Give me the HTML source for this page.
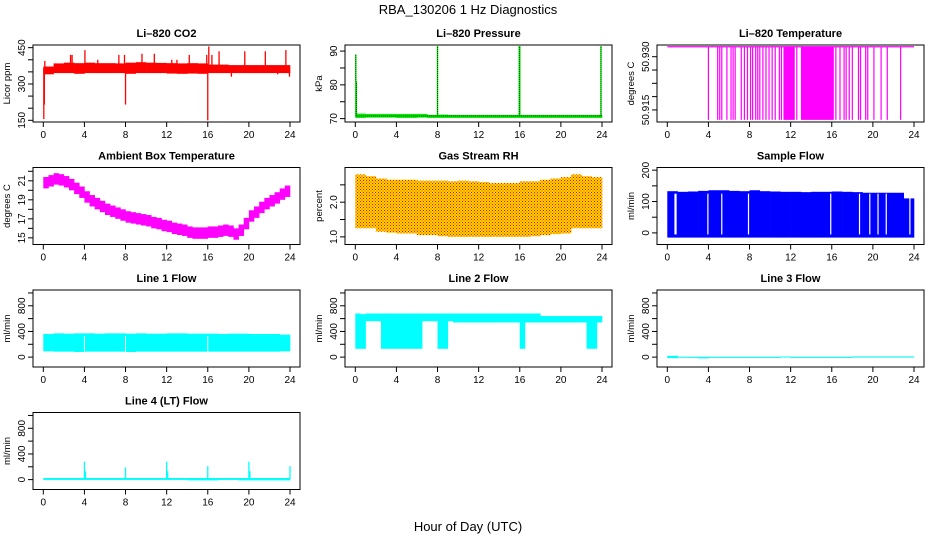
<!DOCTYPE html>
<html><head><meta charset="utf-8"><style>
html,body{margin:0;padding:0;background:#fff;width:936px;height:540px;overflow:hidden}
svg{display:block;font-family:"Liberation Sans",Arial,sans-serif}
</style></head><body>
<svg id="c" width="936" height="540" xmlns="http://www.w3.org/2000/svg">
<defs><pattern id="rdots" width="3" height="3" patternUnits="userSpaceOnUse"><rect width="3" height="3" fill="#ffdd00"/><rect x="0" y="0" width="1" height="1" fill="#ff0000"/><rect x="1.5" y="1.5" width="1" height="1" fill="#ff0000"/></pattern></defs>
<text x="468" y="14" font-size="13" text-anchor="middle">RBA_130206  1 Hz Diagnostics</text>
<text x="468" y="531" font-size="13" text-anchor="middle">Hour of Day (UTC)</text>
</svg>
<script>
const xTicks=[0,4,8,12,16,20,24];
// CO2 hourly band
const co2Lo=[340,345,345,342,345,345,345,345,342,345,345,345,343,342,343,342,345,345,345,345,345,345,345,345];
const co2Hi=[372,385,388,386,388,386,386,385,388,390,388,387,386,385,386,385,380,380,378,378,378,378,378,378];
const co2Spikes=[[0.05,155],[0.1,215],[0.15,395],[2.65,420],[2.8,420],[4.05,440],[5.3,400],[7.35,420],[7.9,420],[8.0,215],[9.6,425],[10.8,425],[12.5,400],[13.0,400],[14.2,420],[15.9,420],[16.0,150],[16.1,455],[16.4,420],[17.1,435],[18.3,330],[19.6,435],[21.6,435],[22.8,340],[23.6,440],[23.95,330]];
// Pressure
const presLo=[70.2,70.3,70.3,70.3,70.2,70.2,70.3,70.2,70.2,70.2,70.2,70.2,70.2,70.2,70.2,70.2,70.2,70.2,70.2,70.2,70.2,70.2,70.2,70.2];
const presHi=[71.5,71.4,71.4,71.4,71.4,71.4,71.4,71.1,71.2,71.1,71.1,71.1,71.1,71.1,71.1,71.1,71.1,71.1,71.1,71.1,71.1,71.1,71.1,71.1];
const presSpikes=[[0.05,89],[0.1,81],[8.0,91.5],[15.95,91.5],[16.0,91.5],[23.9,91.5]];
// Li-820 temperature
const tempHigh=50.9328, tempLow=50.9122;
const tempDrops=[4.0,4.9,5.1,5.3,5.8,6.2,6.4,6.6,7.2,7.5,7.8,8.1,8.3,8.6,8.8,9.0,9.3,9.6,9.9,10.2,10.5,10.9,11.1,12.6,16.4,16.8,17.2,17.4,17.7,18.0,18.6,18.8,19.3,19.5,20.1,20.8,21.4,22.7];
const tempBlocks=[[11.3,12.4],[13.0,16.2]];
// Ambient box temperature (half-hour bins)
const ambLo=[20.2,20.4,20.6,20.5,20.3,20.0,19.6,19.2,18.7,18.3,18.0,17.7,17.4,17.2,17.0,16.8,16.6,16.5,16.4,16.3,16.2,16.0,15.9,15.7,15.6,15.4,15.3,15.2,15.0,14.9,14.9,14.9,15.0,15.0,15.1,15.2,15.1,14.8,15.2,15.9,16.7,17.1,17.6,18.0,18.3,18.6,19.0,19.3];
const ambHi=[21.4,21.6,21.8,21.7,21.5,21.2,20.8,20.4,19.9,19.5,19.2,18.9,18.6,18.4,18.2,18.0,17.8,17.7,17.6,17.5,17.4,17.2,17.1,16.9,16.8,16.6,16.5,16.4,16.2,16.1,16.1,16.1,16.2,16.2,16.3,16.4,16.3,16.0,16.4,17.1,17.9,18.3,18.8,19.2,19.5,19.8,20.2,20.5];
// Gas stream RH
const rhLo=[1.25,1.25,1.15,1.12,1.1,1.1,1.05,1.05,1.02,1.0,1.0,1.0,1.0,1.0,1.0,1.0,1.0,1.02,1.05,1.08,1.1,1.25,1.25,1.25];
const rhHi=[2.8,2.75,2.68,2.65,2.65,2.65,2.62,2.62,2.62,2.6,2.62,2.6,2.58,2.55,2.55,2.55,2.6,2.6,2.65,2.68,2.72,2.8,2.75,2.72];
// Sample flow
const sfLo=[-15,-15,-15,-15,-15,-15,-15,-15,-15,-15,-15,-15,-15,-15,-15,-15,-15,-15,-15,-15,-15,-15,-15,-15];
const sfHi=[133,131,132,134,136,136,134,133,136,133,132,131,131,130,131,131,132,131,130,128,128,128,128,110];
const sfGaps=[0.75,0.85,3.95,5.3,7.9,15.9,18.7,19.7,20.5,21.3,23.6];
// Line flows
const l1Lo=[90,85,85,80,85,85,85,85,80,85,85,85,85,85,85,85,85,85,85,85,85,85,85,90];
const l1Hi=[360,370,365,370,370,365,370,370,365,370,365,365,370,370,365,365,365,360,365,365,360,360,360,350];
const l1Gaps=[4.0,8.0,16.0];
const l2Lo=[130,130,560,560,560,130,130,130,130,130,130,130,130,560,560,560,130,130,560,540,540,540,540,540,540,540,540,540,540,540,540,540,130,540,540,540,540,540,540,540,540,540,540,540,540,130,130,540];
const l2Hi=[680,670,680,680,680,680,680,680,680,680,680,680,680,680,680,680,680,680,680,680,680,680,680,680,680,680,680,680,680,680,680,680,680,680,680,680,640,640,640,640,640,640,640,640,640,640,640,640];
const l3Lo=[-15,-5,-3,-20,-3,-3,-3,-3,-3,-3,-3,-3,-3,-3,-3,-3,-3,-3,-3,-3,-3,-3,-3,-3];
const l3Hi=[20,5,3,3,3,3,3,3,3,3,3,10,3,3,3,3,3,3,12,12,12,12,12,12];
const l4Lo=[-5,-5,-5,-5,-5,-5,-5,-5,-5,-5,-5,-5,-5,-5,-12,-12,-12,-5,-5,-12,-12,-12,-12,-12];
const l4Hi=[25,25,25,25,25,25,25,25,25,25,25,25,25,25,25,25,25,25,25,25,25,25,25,25];
const l4Spikes=[[4,280],[4.1,130],[8,190],[12,280],[12.1,130],[16,210],[20,280],[20.1,130],[24,210]];

const NS="http://www.w3.org/2000/svg", svg=document.getElementById('c');
const cols=[{bl:33,br:300,x0:43.3,x24:290},{bl:345,br:612,x0:355.3,x24:602},{bl:657,br:924,x0:667.3,x24:914}];
const rows=[45,167.5,290,412.5], BH=77;
function el(t,a,p){const e=document.createElementNS(NS,t);for(const k in a)e.setAttribute(k,a[k]);(p||svg).appendChild(e);return e;}
function panel(name,c,r,title,ylab,ylim,ticks,labels){
  const C=cols[c],top=rows[r],bot=top+BH;
  const g=el('g',{});
  
  
  const sx=h=>C.x0+h/24*(C.x24-C.x0);
  const sy=v=>bot-(v-ylim[0])/(ylim[1]-ylim[0])*BH;
  const data=el('g',{},g);
  const t=el('text',{x:(C.bl+C.br)/2,y:top-8,'font-size':11,'font-weight':'bold','text-anchor':'middle'},g);t.textContent=title;
  
  
  const yl=el('text',{x:0,y:0,'font-size':9.5,'text-anchor':'middle',transform:`translate(${C.bl-23},${(top+bot)/2}) rotate(-90)`},g);yl.textContent=ylab;
  
  
  const box=el('rect',{x:C.bl,y:top,width:C.br-C.bl,height:BH,fill:'none',stroke:'#000','stroke-width':1},g);
  
  
  xTicks.forEach(h=>{el('line',{x1:sx(h),x2:sx(h),y1:bot,y2:bot+5,stroke:'#000'},g);
    const tx=el('text',{x:sx(h),y:bot+16,'font-size':10,'text-anchor':'middle'},g);tx.textContent=h;
    
    });
  ticks.forEach((v,i)=>{el('line',{x1:C.bl-5,x2:C.bl,y1:sy(v),y2:sy(v),stroke:'#000'},g);
    if(labels[i]){const ty=el('text',{x:0,y:0,'font-size':10,'text-anchor':'middle',transform:`translate(${C.bl-8},${sy(v)}) rotate(-90)`},g);ty.textContent=labels[i];
    
    }});
  return {sx,sy,g:data};
}
function bands(p,lo,hi,fill){const w=24/lo.length;lo.forEach((v,i)=>{const y1=p.sy(hi[i]),y2=p.sy(v);
  const r=el('rect',{x:p.sx(i*w),y:y1,width:p.sx((i+1)*w)-p.sx(i*w)+0.3,height:Math.max(1,y2-y1),fill:fill},p.g);
  
  });}
function vline(p,h,v1,v2,col,wd,dash){const l=el('line',{x1:p.sx(h),x2:p.sx(h),y1:p.sy(v1),y2:p.sy(v2),stroke:col,'stroke-width':wd||1},p.g);if(dash)l.setAttribute('stroke-dasharray',dash);
  
  return l;}

// CO2
let p=panel('co2',0,0,'Li\u2013820 CO2','Licor ppm',[143,461],[150,200,250,300,350,400,450],['150','','','300','','','450']);
bands(p,co2Lo,co2Hi,'#ff0000');co2Spikes.forEach(s=>vline(p,s[0],365,s[1],'#ff0000',1.3));
// Pressure
p=panel('pressure',1,0,'Li\u2013820 Pressure','kPa',[69,91.8],[70,75,80,85,90],['70','','80','','90']);
bands(p,presLo,presHi,'#00ee00');
el('line',{x1:p.sx(0),x2:p.sx(24),y1:p.sy(70.8),y2:p.sy(70.8),stroke:'#000','stroke-width':0.8,'stroke-dasharray':'1,1'},p.g);
presSpikes.forEach(s=>{vline(p,s[0],70.8,s[1],'#00ee00',1.5);vline(p,s[0],70.8,s[1],'#000',0.7,'1,1');});
// Li-820 temperature
p=panel('li820-temp',2,0,'Li\u2013820 Temperature','degrees C',[50.9116,50.9333],[50.915,50.91875,50.9225,50.92625,50.930],['50.915','','','','50.930']);
el('line',{x1:p.sx(0),x2:p.sx(24),y1:p.sy(tempHigh),y2:p.sy(tempHigh),stroke:'#ff00ff','stroke-width':1.2},p.g);
tempDrops.forEach(h=>vline(p,h,tempHigh,tempLow,'#ff00ff',1.2));
tempBlocks.forEach(b=>{const r=el('rect',{x:p.sx(b[0]),y:p.sy(tempHigh),width:p.sx(b[1])-p.sx(b[0]),height:p.sy(tempLow)-p.sy(tempHigh),fill:'#ff00ff'},p.g);
  
  });
// Ambient
p=panel('ambient-temp',0,1,'Ambient Box Temperature','degrees C',[14.3,22.4],[15,16,17,18,19,20,21,22],['15','','17','','19','','21','']);
bands(p,ambLo,ambHi,'#ff00ff');
// RH
p=panel('gas-rh',1,1,'Gas Stream RH','percent',[0.78,3.0],[1.0,1.5,2.0,2.5],['1.0','','2.0','']);
bands(p,rhLo,rhHi,'url(#rdots)');
// Sample flow
p=panel('sample-flow',2,1,'Sample Flow','ml/min',[-37,208.5],[0,50,100,150,200],['0','','100','','200']);
bands(p,sfLo,sfHi,'#0000ff');sfGaps.forEach(h=>vline(p,h,-5,125,'#ffffff',1.2));
// Line flows
const fl=[-154,1046],ft=[0,200,400,600,800,1000],fL=['0','','400','','800',''];
p=panel('line1-flow',0,2,'Line 1 Flow','ml/min',fl,ft,fL);bands(p,l1Lo,l1Hi,'#00ffff');l1Gaps.forEach(h=>vline(p,h,90,330,'#ffffff',1));
p=panel('line2-flow',1,2,'Line 2 Flow','ml/min',fl,ft,fL);bands(p,l2Lo,l2Hi,'#00ffff');
p=panel('line3-flow',2,2,'Line 3 Flow','ml/min',fl,ft,fL);
el('line',{x1:p.sx(0),x2:p.sx(24),y1:p.sy(0),y2:p.sy(0),stroke:'#999','stroke-width':0.8},p.g);bands(p,l3Lo,l3Hi,'#00ffff');
p=panel('line4-flow',0,3,'Line 4 (LT) Flow','ml/min',fl,ft,fL);bands(p,l4Lo,l4Hi,'#00ffff');l4Spikes.forEach(s=>vline(p,s[0],10,s[1],'#00ffff',1.3));
</script>
</body></html>
